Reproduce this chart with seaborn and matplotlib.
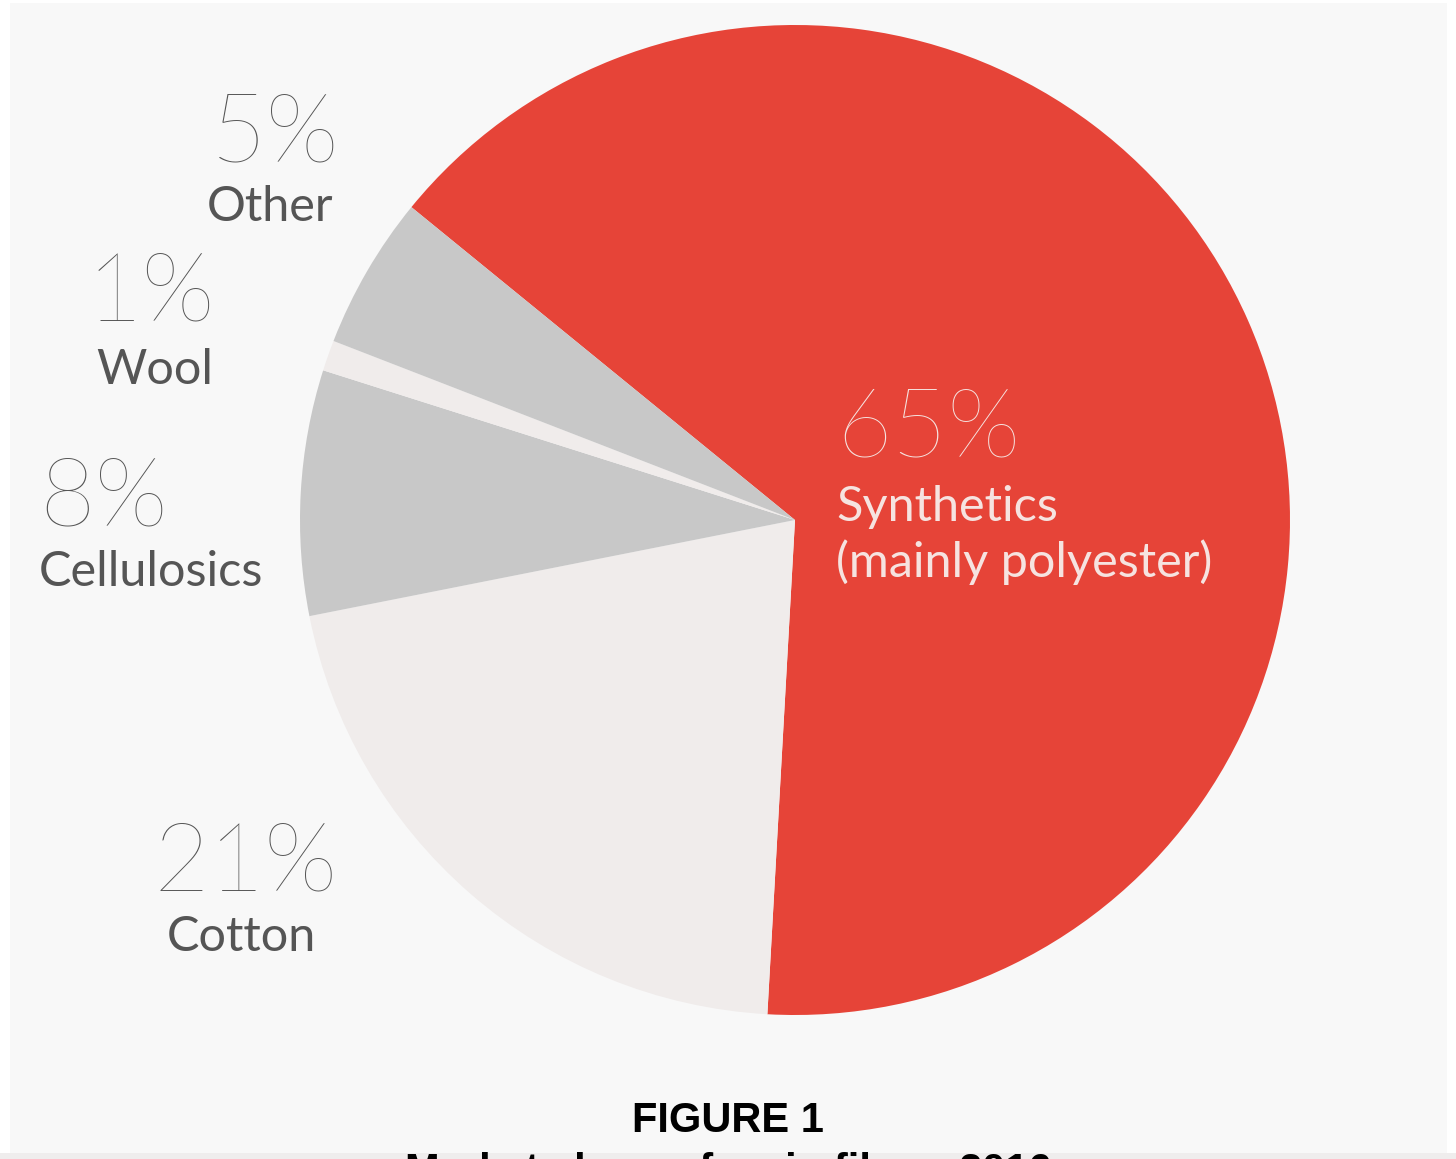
import matplotlib
matplotlib.use("Agg")
import matplotlib.pyplot as plt
import seaborn as sns
from matplotlib.patches import Rectangle

categories = ["Synthetics", "Cotton", "Cellulosics", "Wool", "Other"]
shares = [65, 21, 8, 1, 5]
pct_labels = ["65%", "21%", "8%", "1%", "5%"]
name_labels = ["Synthetics\n(mainly polyester)", "Cotton", "Cellulosics", "Wool", "Other"]
colors = ["#E64438", "#F0ECEB", "#C8C8C8", "#F0ECEB", "#C8C8C8"]

sns.set_theme(style="white")
plt.rcParams["font.family"] = ["Lato", "DejaVu Sans"]

W, H = 1456, 1159
fig = plt.figure(figsize=(W / 100, H / 100), dpi=100)
fig.patch.set_facecolor("white")

# panel background
fig.add_artist(Rectangle((10 / W, (H - 1153) / H), (1447 - 10) / W, (1153 - 3) / H,
                         transform=fig.transFigure, facecolor="#F8F8F8",
                         edgecolor="none", zorder=0))
fig.add_artist(Rectangle((0, 0), 1, (H - 1153) / H, transform=fig.transFigure,
                         facecolor="#EFEDED", edgecolor="none", zorder=0))

cx, cy, r = 795, 520, 495
ax = fig.add_axes([(cx - r) / W, (H - cy - r) / H, 2 * r / W, 2 * r / H])
ax.set_facecolor("none")
ax.pie(shares, colors=colors, startangle=140.8, counterclock=False,
       wedgeprops=dict(linewidth=0))
ax.set_xlim(-1, 1)
ax.set_ylim(-1, 1)
ax.set_aspect("equal")
ax.axis("off")

def px(x, y):
    return x / W, 1 - y / H

grey = "#555555"
# label anchor positions in pixels: (pct x, pct center y, name x, name center y, ha)
pos = {
    "Synthetics": (836, 430, 836, 535, "left"),
    "Cotton": (246, 864, 241, 937, "center"),
    "Cellulosics": (104, 499, 151, 572, "center"),
    "Wool": (151, 294, 155, 370, "center"),
    "Other": (275, 135, 270, 207, "center"),
}
for cat, pl, nl in zip(categories, pct_labels, name_labels):
    x1, y1, x2, y2, ha = pos[cat]
    col = "#F6E3E0" if cat == "Synthetics" else grey
    fig.text(*px(x1, y1), pl, ha=ha, va="center", fontsize=69,
             fontweight="light", color=col)
    fig.text(*px(x2, y2), nl, ha=ha, va="center", fontsize=35,
             fontweight="normal", color=col, linespacing=1.25)

fig.text(*px(728, 1121), "FIGURE 1", ha="center", va="center", fontsize=30,
         fontweight="bold", color="black", family=["Liberation Sans", "DejaVu Sans"])
fig.text(*px(728, 1152), "Market share of main fibres 2016", ha="center", va="top",
         fontsize=30, fontweight="bold", color="black",
         family=["Liberation Sans", "DejaVu Sans"])

fig.savefig("out.png", dpi=100, facecolor=fig.get_facecolor())
